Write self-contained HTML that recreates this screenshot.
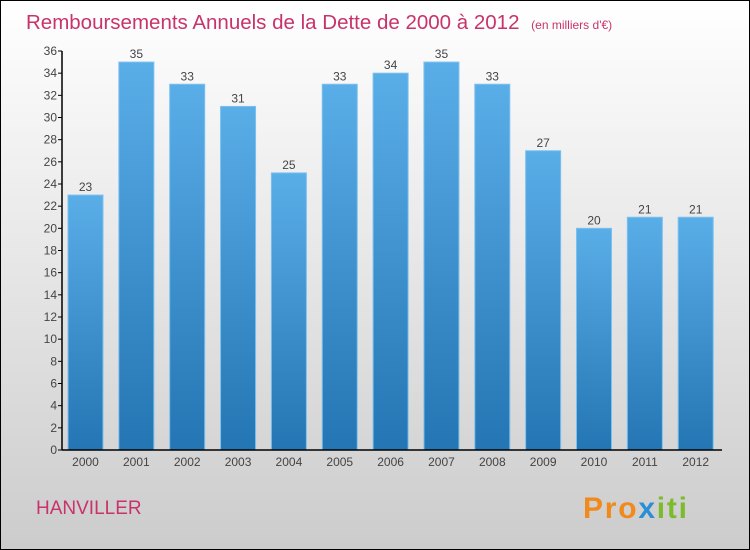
<!DOCTYPE html>
<html><head><meta charset="utf-8"><style>
body{margin:0;}
#wrap{position:relative;width:750px;height:550px;box-sizing:border-box;border:1px solid #000;background:linear-gradient(#ffffff,#cccccc);font-family:"Liberation Sans",sans-serif;overflow:hidden}
</style></head><body>
<div id="wrap">
<svg id="svg" width="750" height="550" style="position:absolute;left:-1px;top:-1px">
<defs><linearGradient id="bg" x1="0" y1="0" x2="0" y2="1"><stop offset="0" stop-color="#5aaee8"/><stop offset="1" stop-color="#2475b3"/></linearGradient></defs>
<text x="26" y="29" font-size="20.5" fill="#c8336a">Remboursements Annuels de la Dette de 2000 à 2012 <tspan font-size="12" dx="6">(en milliers d'€)</tspan></text>
<text x="36" y="514" font-size="19" fill="#c8336a">HANVILLER</text>
<text x="583" y="518" font-size="30" font-weight="bold" fill="#f08a1c" textLength="104">Pro<tspan fill="#2a8fd6">x</tspan><tspan fill="#7cbb2a">iti</tspan></text>
</svg>
</div>
<script>
const categories=["2000","2001","2002","2003","2004","2005","2006","2007","2008","2009","2010","2011","2012"];
const values=[23,35,33,31,25,33,34,35,33,27,20,21,21];
const yTicks=[0,2,4,6,8,10,12,14,16,18,20,22,24,26,28,30,32,34,36];
const svg=document.getElementById('svg');
const NS='http://www.w3.org/2000/svg';
const x0=62,y0=450,yTop=51,yMax=36,step=50.85,bw=35;
const y=v=>y0-(v/yMax)*(y0-yTop);
const xb=i=>x0+6+i*step;
function mk(t,a){const e=document.createElementNS(NS,t);for(const k in a)e.setAttribute(k,a[k]);svg.appendChild(e);return e;}
values.forEach((v,i)=>{
 const r=mk('rect',{x:xb(i),y:y(v),width:bw,height:y0-y(v),fill:'url(#bg)',stroke:'#7cc0ef','stroke-width':1});
 
 
 const t=mk('text',{x:xb(i)+bw/2,y:y(v)-4,'font-size':12,fill:'#444','text-anchor':'middle'});t.textContent=v;
 
 
 const c=mk('text',{x:xb(i)+bw/2,y:466,'font-size':12,fill:'#444','text-anchor':'middle'});c.textContent=categories[i];
 
 
});
yTicks.forEach(v=>{
 const l=mk('line',{x1:x0-4,x2:x0,y1:y(v),y2:y(v),stroke:'#000'});
 
 
 const t=mk('text',{x:x0-5,y:y(v)+4,'font-size':12,fill:'#444','text-anchor':'end'});t.textContent=v;
 
 
});
const ya=mk('line',{x1:x0,x2:x0,y1:yTop,y2:y0,stroke:'#000','stroke-width':1.5});


const xa=mk('line',{x1:x0,x2:722,y1:y0,y2:y0,stroke:'#000','stroke-width':1.5});


</script>
</body></html>
